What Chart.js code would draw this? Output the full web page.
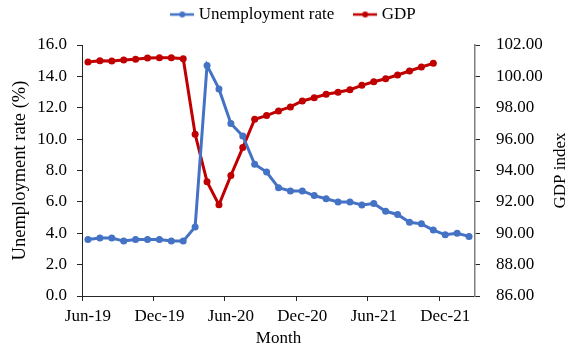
<!DOCTYPE html>
<html>
<head>
<meta charset="utf-8">
<script src="https://cdn.jsdelivr.net/npm/chart.js@4.4.1/dist/chart.umd.min.js"></script>
<style>
  html, body { margin: 0; padding: 0; background: #ffffff; }
  #wrap { width: 572px; height: 351px; position: relative; }
</style>
</head>
<body>
<div id="wrap"><canvas id="c" width="572" height="351"></canvas></div>
<script>
// ---- data ----
const months = ['Jun-19','Jul-19','Aug-19','Sep-19','Oct-19','Nov-19','Dec-19','Jan-20','Feb-20','Mar-20','Apr-20','May-20',
  'Jun-20','Jul-20','Aug-20','Sep-20','Oct-20','Nov-20','Dec-20','Jan-21','Feb-21','Mar-21','Apr-21','May-21',
  'Jun-21','Jul-21','Aug-21','Sep-21','Oct-21','Nov-21','Dec-21','Jan-22','Feb-22'];
const unemploymentRate = [3.6,3.7,3.7,3.5,3.6,3.6,3.6,3.5,3.5,4.4,14.7,13.2,11.0,10.2,8.4,7.9,6.9,6.7,6.7,6.4,6.2,6.0,6.0,5.8,5.9,5.4,5.2,4.7,4.6,4.2,3.9,4.0,3.8];
const gdpIndex = [100.92,101.00,100.98,101.04,101.09,101.17,101.19,101.19,101.13,96.31,93.29,91.81,93.68,95.46,97.27,97.50,97.80,98.05,98.43,98.64,98.86,98.99,99.15,99.43,99.66,99.85,100.09,100.34,100.60,100.83];
const seriesNames = ['Unemployment rate', 'GDP'];
const axisTitles = { left: 'Unemployment rate (%)', right: 'GDP index', bottom: 'Month' };

// ---- style ----
const BLUE = '#4472C4';
const RED = '#C00000';
const FONT = "'Liberation Serif', 'Times New Roman', serif";
const FS = 17;

function legendMarker(color) {
  const c = document.createElement('canvas');
  c.width = 24; c.height = 8;
  const g = c.getContext('2d');
  g.strokeStyle = color; g.lineWidth = 2.5;
  g.beginPath(); g.moveTo(0, 4); g.lineTo(24, 4); g.stroke();
  g.fillStyle = color;
  g.beginPath(); g.arc(12, 4, 3, 0, Math.PI * 2); g.fill();
  return c;
}
const markers = [legendMarker(BLUE), legendMarker(RED)];

const layoutTweaks = {
  id: 'layoutTweaks',
  beforeUpdate(chart) {
    if (chart.legend && !chart.legend._wrapped) {
      const orig = chart.legend.fit;
      chart.legend.fit = function () { orig.call(this); this.height = 45; };
      chart.legend._wrapped = true;
    }
  },
  afterLayout(chart) {
    const lg = chart.legend;
    if (lg) { lg.top -= 17; lg.bottom -= 17; lg.left += 9; lg.right += 9; }
  },
  afterDraw(chart) {
    const ctx = chart.ctx;
    const a = chart.chartArea;
    ctx.save();
    ctx.translate(561, (a.top + a.bottom) / 2);
    ctx.rotate(-Math.PI / 2);
    ctx.font = FS + 'px ' + FONT;
    ctx.fillStyle = '#000';
    ctx.textAlign = 'center';
    ctx.textBaseline = 'middle';
    ctx.fillText(axisTitles.right, 0, 0);
    ctx.restore();
  }
};

new Chart(document.getElementById('c'), {
  type: 'line',
  data: {
    labels: months,
    datasets: [
      { label: seriesNames[0], data: unemploymentRate, yAxisID: 'y', borderColor: BLUE, backgroundColor: BLUE,
        borderWidth: 3, pointRadius: 3.5, pointHoverRadius: 3.5, pointBorderWidth: 0, tension: 0 },
      { label: seriesNames[1], data: gdpIndex, yAxisID: 'y1', borderColor: RED, backgroundColor: RED,
        borderWidth: 3, pointRadius: 3.5, pointHoverRadius: 3.5, pointBorderWidth: 0, tension: 0 }
    ]
  },
  options: {
    responsive: false,
    animation: false,
    devicePixelRatio: 1,
    layout: { padding: 0 },
    font: { family: FONT, size: FS },
    plugins: {
      tooltip: { enabled: false },
      legend: {
        position: 'top',
        labels: {
          color: '#000',
          font: { family: FONT, size: FS },
          usePointStyle: true,
          pointStyleWidth: 16,
          padding: 23,
          generateLabels(chart) {
            const items = Chart.defaults.plugins.legend.labels.generateLabels(chart);
            items.forEach((it, i) => { it.pointStyle = markers[i]; });
            return items;
          }
        }
      }
    },
    scales: {
      x: {
        type: 'category',
        offset: true,
        grid: {
          offset: true,
          drawOnChartArea: false,
          drawTicks: true,
          tickLength: 5,
          color: (c) => (c.index % 6 === 0 ? '#262626' : 'rgba(0,0,0,0)')
        },
        border: { color: '#262626', width: 1 },
        ticks: {
          autoSkip: false, maxRotation: 0, minRotation: 0, padding: 5,
          color: '#000', font: { family: FONT, size: FS },
          callback: (v, i) => (i % 6 === 0 ? months[i] : '')
        },
        title: { display: true, text: axisTitles.bottom, color: '#000', font: { family: FONT, size: FS }, padding: { top: 0, bottom: 2 } },
        afterFit: (s) => { s.height = 55; }
      },
      y: {
        position: 'left',
        min: 0, max: 16,
        grid: { drawOnChartArea: false, drawTicks: true, tickLength: 5, color: '#262626' },
        border: { color: '#262626', width: 1 },
        ticks: { stepSize: 2, padding: 10, color: '#000', font: { family: FONT, size: FS },
          callback: (v) => Number(v).toFixed(1) },
        title: { display: true, text: axisTitles.left, color: '#000', font: { family: FONT, size: 18.5 }, padding: { top: 9, bottom: 0 } },
        afterFit: (s) => { s.width = 82; }
      },
      y1: {
        position: 'right',
        min: 86, max: 102,
        grid: { drawOnChartArea: false, drawTicks: true, tickLength: 5, color: '#262626' },
        border: { color: '#7f7f7f', width: 1.5 },
        ticks: { stepSize: 2, padding: 16, color: '#000', font: { family: FONT, size: FS },
          callback: (v) => Number(v).toFixed(2) },
        title: { display: false },
        afterFit: (s) => { s.width = 97; }
      }
    }
  },
  plugins: [layoutTweaks]
});
</script>
</body>
</html>
